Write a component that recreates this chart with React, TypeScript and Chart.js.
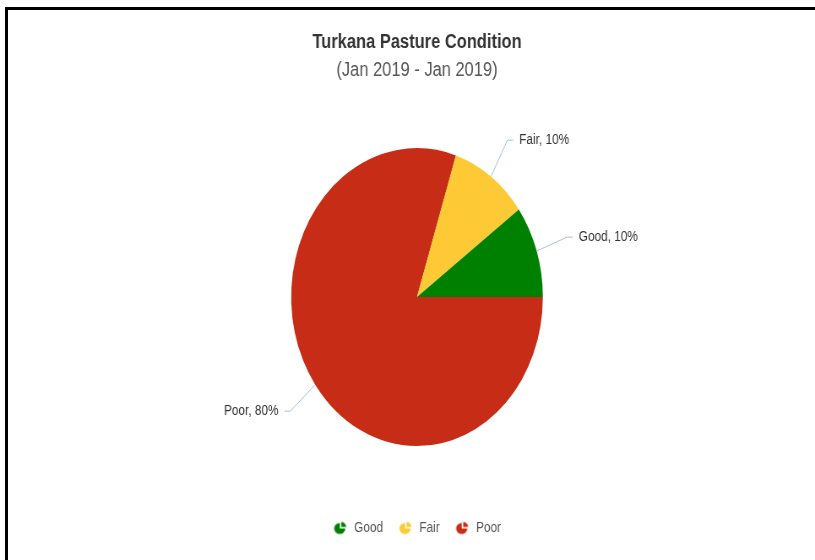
import React, { useEffect, useRef } from 'react';
import { Chart, registerables } from 'chart.js';

Chart.register(...registerables);

const TITLE = 'Turkana Pasture Condition';
const SUBTITLE = '(Jan 2019 - Jan 2019)';
const categories = ['Good', 'Fair', 'Poor'];
const values = [10, 10, 80];
const colors = ['#008000', '#fdc935', '#c72c16'];

const VW = 965;
const VH = 560;
const SX = 815 / VW;
const FONT = '"Liberation Sans", Arial, Helvetica, sans-serif';

function makeIcon(color: string) {
  const c = document.createElement('canvas');
  c.width = 18;
  c.height = 15;
  const ctx = c.getContext('2d')!;
  const ry = 5.6;
  const rx = ry / SX;
  const cx = 8;
  const cy = 8;
  ctx.fillStyle = color;
  ctx.beginPath();
  ctx.moveTo(cx, cy);
  ctx.ellipse(cx, cy, rx, ry, 0, 0, 1.5 * Math.PI);
  ctx.closePath();
  ctx.fill();
  const ox = cx + 1.4 / SX;
  const oy = cy - 1.4;
  ctx.beginPath();
  ctx.moveTo(ox, oy);
  ctx.ellipse(ox, oy, rx * 0.9, ry * 0.9, 0, -Math.PI / 2, 0);
  ctx.closePath();
  ctx.fill();
  return c;
}

const labelPlugin = {
  id: 'pieLabels',
  afterDatasetsDraw(chart: any) {
    const meta = chart.getDatasetMeta(0);
    const ctx = chart.ctx;
    const labels = chart.data.labels as string[];
    const data = chart.data.datasets[0].data as number[];
    const total = data.reduce((a, b) => a + b, 0);
    ctx.save();
    meta.data.forEach((arc: any, i: number) => {
      const { x, y, startAngle, endAngle, outerRadius } = arc.getProps(
        ['x', 'y', 'startAngle', 'endAngle', 'outerRadius'],
        true
      );
      const mid = (startAngle + endAngle) / 2;
      const cos = Math.cos(mid);
      const sin = Math.sin(mid);
      const d = outerRadius + 45;
      const ax = x + d * cos;
      const ay = y + d * sin;
      const s = cos >= 0 ? 1 : -1;
      ctx.strokeStyle = '#a3c0dc';
      ctx.lineWidth = 1;
      ctx.beginPath();
      ctx.moveTo(x + outerRadius * cos, y + outerRadius * sin);
      ctx.lineTo(ax - s * 7, ay);
      ctx.lineTo(ax, ay);
      ctx.stroke();
      ctx.fillStyle = '#333333';
      ctx.font = `14px ${FONT}`;
      ctx.textAlign = s > 0 ? 'left' : 'right';
      ctx.textBaseline = 'middle';
      ctx.fillText(`${labels[i]}, ${Math.round((data[i] / total) * 100)}%`, ax + s * 7, ay);
    });
    ctx.restore();
  },
};

export default function App() {
  const ref = useRef<HTMLCanvasElement>(null);

  useEffect(() => {
    if (!ref.current) return;
    const lbls = [...categories].reverse();
    const vals = [...values].reverse();
    const cols = [...colors].reverse();
    const icons = cols.map((c) => makeIcon(c));
    const chart = new Chart(ref.current, {
      type: 'pie',
      data: {
        labels: lbls,
        datasets: [
          {
            data: vals,
            backgroundColor: cols,
            borderWidth: 0,
            hoverOffset: 0,
          },
        ],
      },
      options: {
        responsive: false,
        animation: false,
        devicePixelRatio: 1,
        rotation: 90,
        layout: { padding: { left: 344.75, right: 322.25, top: 0, bottom: 15 } },
        plugins: {
          title: {
            display: true,
            text: TITLE,
            color: '#333333',
            font: { family: FONT, size: 19.5, weight: 'bold' },
            padding: { top: 31.3, bottom: 0 },
          },
          subtitle: {
            display: true,
            text: SUBTITLE,
            color: '#555555',
            font: { family: FONT, size: 19.5, weight: 'normal' },
            padding: { top: 4.5, bottom: 8.6 },
          },
          legend: {
            position: 'bottom',
            reverse: true,
            labels: {
              usePointStyle: true,
              pointStyleWidth: 18,
              padding: 18,
              color: '#555555',
              font: { family: FONT, size: 14 },
              generateLabels: (ch: any) =>
                (ch.data.labels as string[]).map((text, i) => ({
                  text,
                  fillStyle: cols[i],
                  strokeStyle: cols[i],
                  lineWidth: 0,
                  pointStyle: icons[i],
                  hidden: false,
                  index: i,
                  fontColor: '#555555',
                })),
            },
          },
          tooltip: { enabled: false },
        },
      } as any,
      plugins: [labelPlugin],
    });
    return () => chart.destroy();
  }, []);

  return (
    <div
      style={{
        position: 'absolute',
        left: 0,
        top: 0,
        width: 815,
        height: 560,
        overflow: 'hidden',
        background: '#ffffff',
      }}
    >
      <div
        style={{
          position: 'absolute',
          left: 0,
          top: 0,
          width: VW,
          height: VH,
          transform: `scaleX(${SX})`,
          transformOrigin: '0 0',
        }}
      >
        <canvas ref={ref} width={VW} height={VH} />
      </div>
      <div
        style={{
          position: 'absolute',
          left: 5,
          top: 7,
          right: -20,
          bottom: -20,
          borderTop: '3px solid #000',
          borderLeft: '3px solid #000',
        }}
      />
    </div>
  );
}
